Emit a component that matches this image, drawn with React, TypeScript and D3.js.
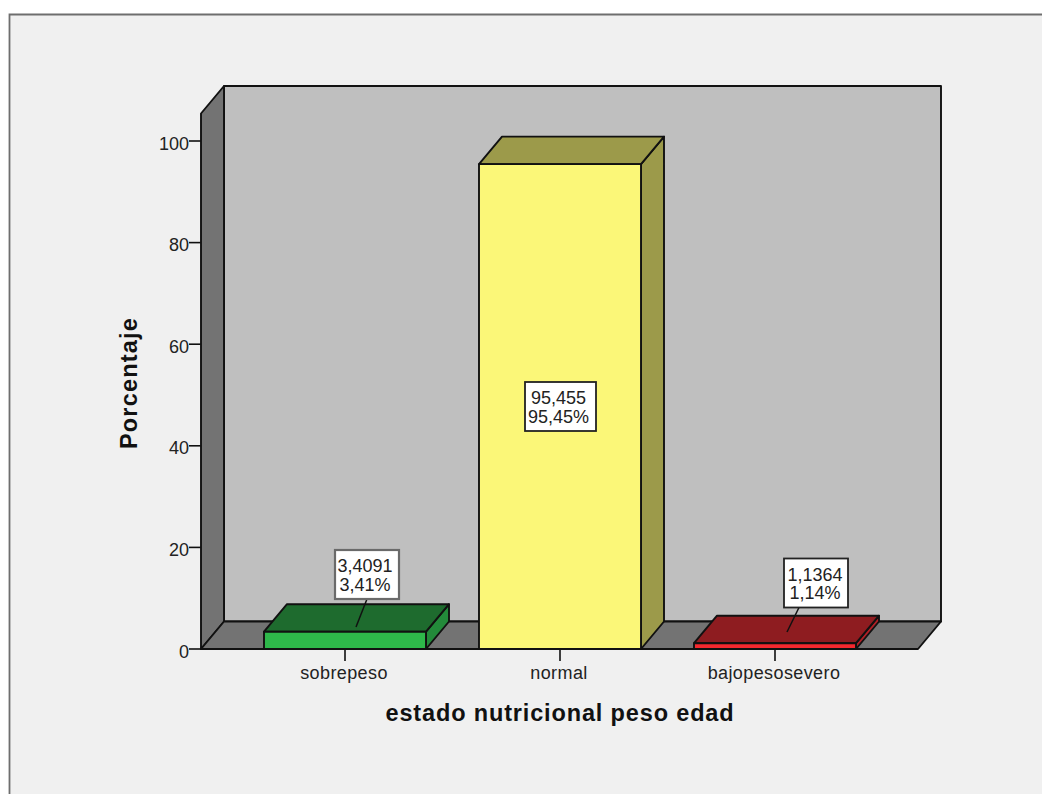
import React from "react";
import * as d3 from "d3";

const categories = ["sobrepeso", "normal", "bajopesosevero"];
const percentages = [3.4091, 95.455, 1.1364];
const valueLabels = ["3,4091", "95,455", "1,1364"];
const percentLabels = ["3,41%", "95,45%", "1,14%"];
const yTicks = [0, 20, 40, 60, 80, 100];

const frontColors = ["#2eb84a", "#fbf778", "#f5282e"];
const topColors = ["#1e6b2e", "#9c9a4a", "#8e1c20"];
const sideColors = ["#238a3a", "#9c9a4a", "#b02026"];

const depthX = 23;
const depthY = -27.5;
const font = "'Liberation Sans', Arial, sans-serif";

const y = d3.scaleLinear().domain([0, 100]).range([649, 141]);
const x = d3.scaleBand().domain(categories).range([264, 856]).paddingInner(0.2465).paddingOuter(0);

// Label box placement and leader endpoints for each bar
const labelBoxes = [
  { cx: 367, textX: 365, top: 550, w: 64, lead: [367, 356, 627] as const },
  { cx: 560.5, textX: 558.5, top: 382, w: 71, lead: null },
  { cx: 816, textX: 815, top: 558.5, w: 64, lead: [799, 787, 632] as const },
];

const poly = (pts: number[][]) => pts.map((p) => p.join(",")).join(" ");

export default function App() {
  const wallTop = 86;
  const left = 201;
  const right = 918;
  const floor = y(0);
  return (
    <svg
      width={1042}
      height={794}
      style={{ position: "absolute", left: 0, top: 0, background: "#fff", fontFamily: font }}
    >
      <rect x={9} y={15} width={1033} height={779} fill="#f0f0f0" />
      <path d="M9.5,794V14.5H1042" fill="none" stroke="#6e6e6e" strokeWidth={1.8} />

      <g stroke="#111" strokeWidth={1.9} strokeLinejoin="round">
        <rect x={left + depthX} y={wallTop} width={right - left} height={floor + depthY - wallTop} fill="#bfbfbf" />
        <polygon
          points={poly([[left, floor], [left + depthX, floor + depthY], [left + depthX, wallTop], [left, wallTop - depthY]])}
          fill="#737373"
        />
        <polygon
          points={poly([[left, floor], [right, floor], [right + depthX, floor + depthY], [left + depthX, floor + depthY]])}
          fill="#737373"
        />
      </g>

      {yTicks.map((t) => (
        <g key={t}>
          <line x1={left - 12} x2={left} y1={y(t)} y2={y(t)} stroke="#111" strokeWidth={1.6} />
          <text x={left - 12} y={y(t) + 8.5} textAnchor="end" fontSize={18} fill="#222">
            {t}
          </text>
        </g>
      ))}

      {categories.map((c, i) => {
        const x0 = x(c)!;
        const x1 = x0 + x.bandwidth();
        const top = y(percentages[i]);
        return (
          <g key={c}>
            <line x1={(x0 + x1) / 2} x2={(x0 + x1) / 2} y1={floor} y2={floor + 12} stroke="#111" strokeWidth={1.6} />
            <text x={(x0 + x1) / 2 - 1} y={679} textAnchor="middle" fontSize={18} letterSpacing={0.4} fill="#222">
              {c}
            </text>
            <g stroke="#111" strokeWidth={1.9} strokeLinejoin="round">
              <polygon
                points={poly([[x1, floor], [x1 + depthX, floor + depthY], [x1 + depthX, top + depthY], [x1, top]])}
                fill={sideColors[i]}
              />
              <polygon
                points={poly([[x0, top], [x1, top], [x1 + depthX, top + depthY], [x0 + depthX, top + depthY]])}
                fill={topColors[i]}
              />
              <rect x={x0} y={top} width={x1 - x0} height={floor - top} fill={frontColors[i]} />
            </g>
          </g>
        );
      })}

      {categories.map((c, i) => {
        const b = labelBoxes[i];
        const h = 49;
        return (
          <g key={c}>
            {b.lead && (
              <line x1={b.lead[0]} y1={b.top + h} x2={b.lead[1]} y2={b.lead[2]} stroke="#111" strokeWidth={1.5} />
            )}
            <rect
              x={b.cx - b.w / 2}
              y={b.top}
              width={b.w}
              height={h}
              fill="#fff"
              stroke={i === 0 ? "#6a6a6a" : "#222"}
              strokeWidth={i === 0 ? 2.2 : 1.8}
            />
            <text x={b.textX} y={b.top + 22} textAnchor="middle" fontSize={18} fill="#222">
              {valueLabels[i]}
            </text>
            <text x={b.textX} y={b.top + 40.5} textAnchor="middle" fontSize={18} fill="#222">
              {percentLabels[i]}
            </text>
          </g>
        );
      })}

      <text x={560} y={721} textAnchor="middle" fontSize={23.5} fontWeight="bold" letterSpacing={0.85} fill="#111">
        estado nutricional peso edad
      </text>
      <text
        transform="translate(137,383) rotate(-90)"
        textAnchor="middle"
        fontSize={23.5}
        fontWeight="bold"
        letterSpacing={1.2}
        fill="#111"
      >
        Porcentaje
      </text>
    </svg>
  );
}
